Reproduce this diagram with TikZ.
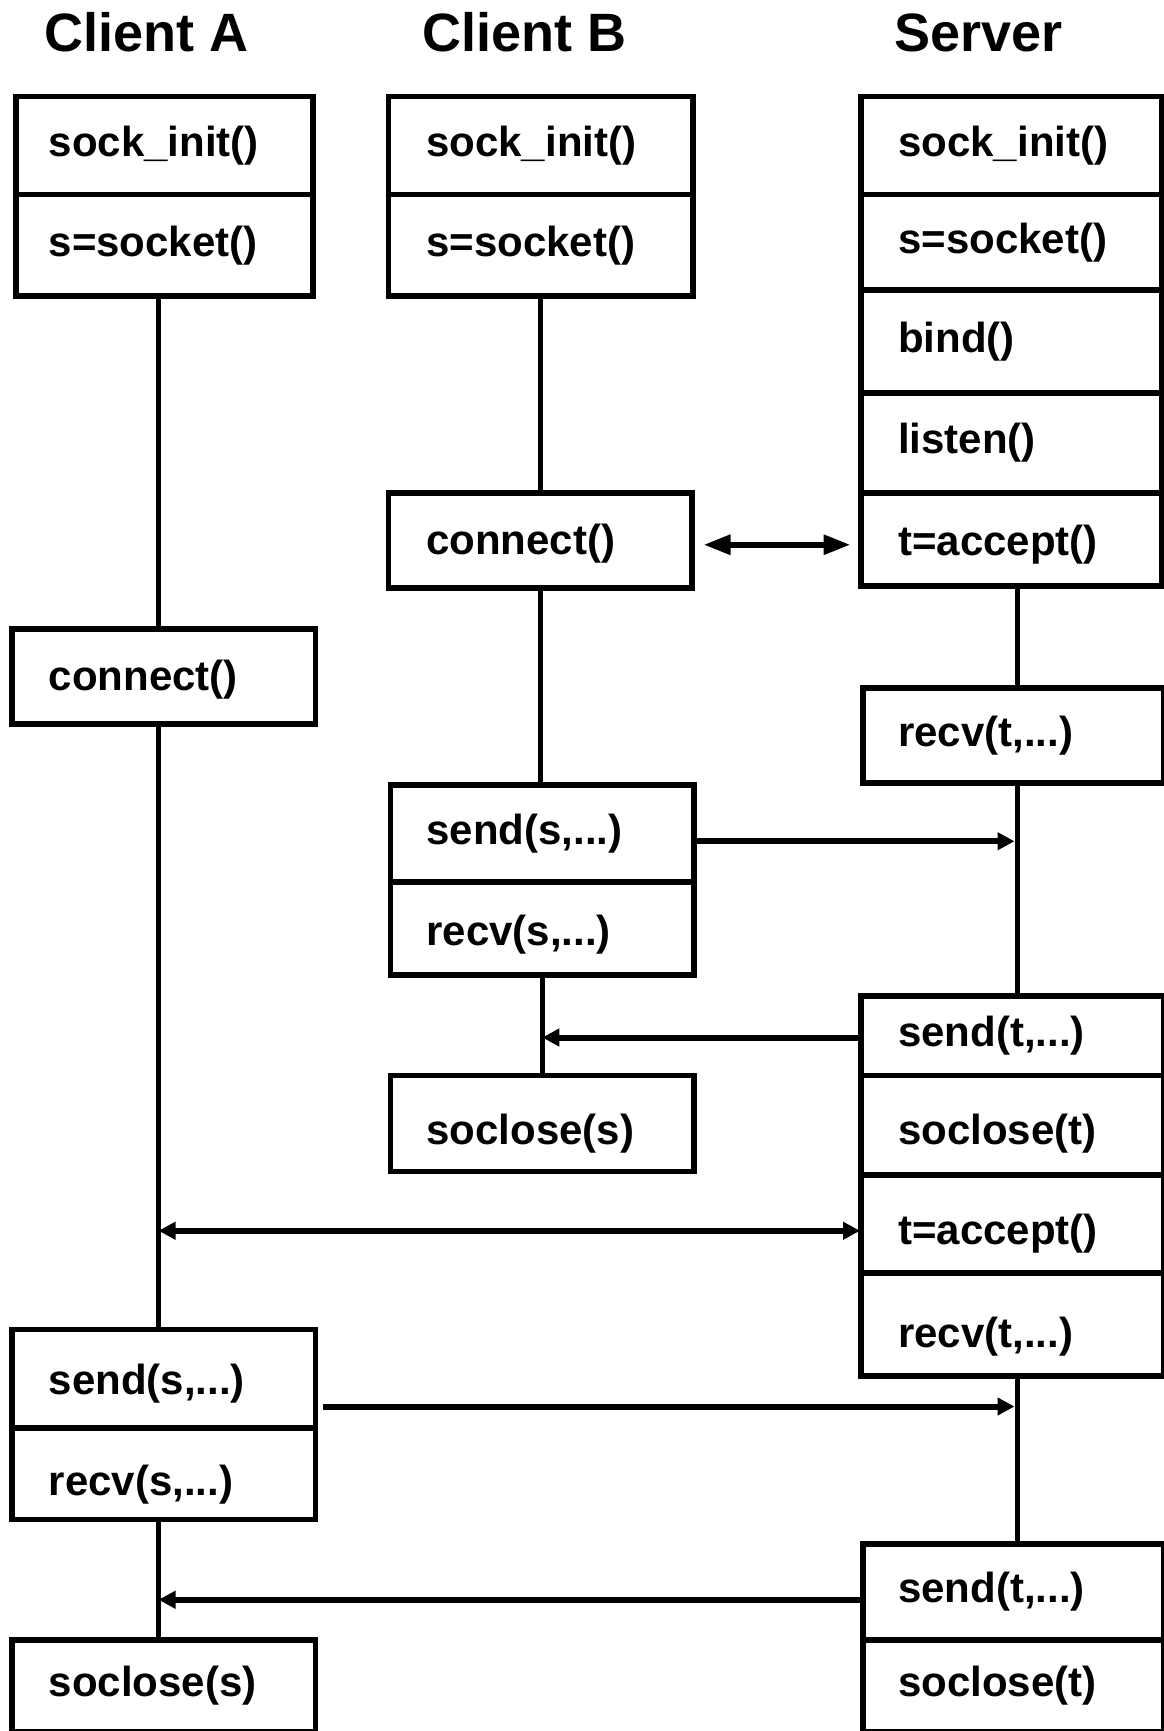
\documentclass[tikz,border=0pt]{standalone}
\usepackage{fontspec}
\setmainfont{Liberation Sans}
\usetikzlibrary{arrows.meta,calc}
\newcommand\lowtxt[2]{\raisebox{-#1pt}[\height][\depth]{#2}}
\begin{document}
\begin{tikzpicture}[x=1pt,y=-1pt,
  cell/.style={draw, line width=5.5pt, inner xsep=0pt, inner ysep=0pt, anchor=north west, align=left,
    font=\fontsize{42}{50}\selectfont\bfseries},
  ttl/.style={anchor=base west, inner sep=0pt, font=\fontsize{54}{60}\selectfont\bfseries},
  life/.style={line width=5pt},
  msg/.style={line width=6pt, -{Triangle[length=17pt,width=17pt]}},
  dbl/.style={line width=6pt, {Triangle[length=17pt,width=17pt]}-{Triangle[length=17pt,width=17pt]}},
  big/.style={line width=6pt, {Triangle[length=27pt,width=19pt]}-{Triangle[length=27pt,width=19pt]}}
]
\useasboundingbox (0,0) rectangle (1163,1731);
% titles
\node[ttl] (tA) at (44,52) {Client A};
\node[ttl] (tB) at (422,52) {Client B};
\node[ttl] (tS) at (894,52) {Server};
% Client A
\node[cell, text width=297pt, minimum height=98pt]  (A1a) at (13,94)  {\hspace*{33pt}sock\_init()};
\node[cell, text width=297pt, minimum height=101pt] (A1b) at (13,192) {\hspace*{33pt}s=socket()};
\node[cell, text width=303.5pt, minimum height=95pt] (Ac) at (9,626) {\hspace*{37pt}\lowtxt{3}{connect()}};
\node[cell, text width=303.5pt, minimum height=98.5pt] (As) at (9,1326.5) {\hspace*{37pt}\lowtxt{5}{send(s,...)}};
\node[cell, text width=303.5pt, minimum height=91.5pt] (Ar) at (9,1425) {\hspace*{37pt}\lowtxt{11}{recv(s,...)}};
\node[cell, text width=303.5pt, minimum height=92pt] (Ax) at (9,1637) {\hspace*{37pt}soclose(s)};
% Client B
\node[cell, text width=304.5pt, minimum height=98pt]  (B1a) at (385.5,94)  {\hspace*{38pt}sock\_init()};
\node[cell, text width=304.5pt, minimum height=101pt] (B1b) at (385.5,192) {\hspace*{38pt}s=socket()};
\node[cell, text width=303.5pt, minimum height=95pt] (Bc) at (385.5,490) {\hspace*{38pt}\lowtxt{3}{connect()}};
\node[cell, text width=303.7pt, minimum height=97pt] (Bs) at (387.7,782) {\hspace*{36pt}send(s,...)};
\node[cell, text width=303.7pt, minimum height=93pt] (Br) at (387.7,879) {\hspace*{36pt}\lowtxt{6}{recv(s,...)}};
\node[cell, text width=303.7pt, minimum height=96pt] (Bx) at (387.7,1072.5) {\hspace*{36pt}\lowtxt{10}{soclose(s)}};
% Server
\node[cell, text width=300.5pt, minimum height=98pt]  (S1a) at (858,94)  {\hspace*{37.5pt}sock\_init()};
\node[cell, text width=300.5pt, minimum height=95pt]  (S1b) at (858,192) {\hspace*{37.5pt}s=socket()};
\node[cell, text width=300.5pt, minimum height=103pt] (S1c) at (858,287) {\hspace*{37.5pt}bind()};
\node[cell, text width=300.5pt, minimum height=100pt] (S1d) at (858,390) {\hspace*{37.5pt}listen()};
\node[cell, text width=300.5pt, minimum height=93pt]  (S1e) at (858,490) {\hspace*{37.5pt}\lowtxt{5}{t=accept()}};
\node[cell, text width=301pt, minimum height=95pt] (Sr) at (860,685) {\hspace*{35.5pt}recv(t,...)};
\node[cell, text width=303pt, minimum height=79.5pt] (S2a) at (858,993) {\hspace*{37.5pt}send(t,...)};
\node[cell, text width=303pt, minimum height=99.5pt] (S2b) at (858,1072.5) {\hspace*{37.5pt}\lowtxt{9}{soclose(t)}};
\node[cell, text width=303pt, minimum height=98pt]   (S2c) at (858,1172) {\hspace*{37.5pt}\lowtxt{10}{t=accept()}};
\node[cell, text width=303pt, minimum height=103pt]  (S2d) at (858,1270) {\hspace*{37.5pt}\lowtxt{12}{recv(t,...)}};
\node[cell, text width=301pt, minimum height=96pt] (S3a) at (860,1541) {\hspace*{35.5pt}send(t,...)};
\node[cell, text width=301pt, minimum height=92pt] (S3b) at (860,1637) {\hspace*{35.5pt}soclose(t)};
% lifelines
\coordinate (ax) at (158.5,0);
\coordinate (sx) at (1017.5,0);
\draw[life] (A1b.south -| ax) -- (Ac.north -| ax);
\draw[life] (Ac.south -| ax) -- (As.north -| ax);
\draw[life] (Ar.south -| ax) -- (Ax.north -| ax);
\draw[life] (B1b.south) -- (B1b.south |- Bc.north);
\draw[life] (Bc.south) -- (Bc.south |- Bs.north);
\draw[life] (Br.south) -- (Br.south |- Bx.north);
\draw[life] (S1e.south -| sx) -- (Sr.north -| sx);
\draw[life] (Sr.south -| sx) -- (S2a.north -| sx);
\draw[life] (S2d.south -| sx) -- (S3a.north -| sx);
% messages
\coordinate (c1) at ($(Bc.east)+(9,4.5)$);
\draw[big, shorten >=7.5pt] (c1) -- (c1 -| S1e.west);
\coordinate (c2) at ($(Bs.east)+(0,8)$);
\draw[msg, shorten >=3pt] (c2) -- (c2 -| sx);
\coordinate (c3) at ($(S2a.west)+(3,2)$);
\draw[msg] (c3) -- (c3 -| Br.south);
\coordinate (c4) at ($(S2c.west)+(2,7)$);
\draw[dbl] (c4 -| ax) -- (c4);
\coordinate (c5) at ($(As.east)+(5,28)$);
\draw[msg, shorten >=3pt] (c5) -- (c5 -| sx);
\coordinate (c6) at ($(S3a.west)+(0,8)$);
\draw[msg] (c6) -- (c6 -| ax);
\end{tikzpicture}
\end{document}
